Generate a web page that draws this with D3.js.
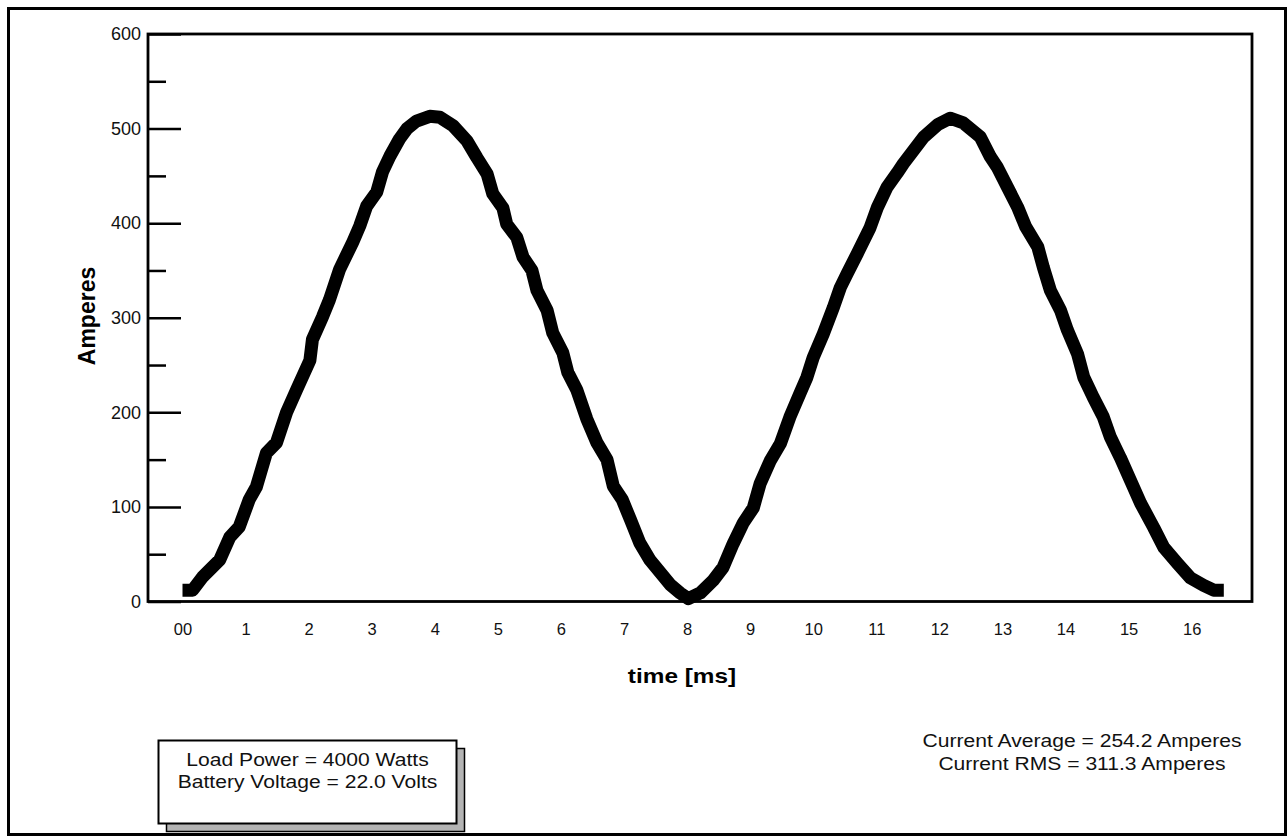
<!DOCTYPE html>
<html>
<head>
<meta charset="utf-8">
<script src="https://cdn.jsdelivr.net/npm/d3@7"></script>
<style>
  body { margin: 0; background: #fff; }
  svg { display: block; font-family: "Liberation Sans", Arial, Helvetica, sans-serif; }
</style>
</head>
<body>
<svg id="chart" width="1288" height="836"></svg>
<script>
// --- data (time in ms, current in A) ---
const timeMs = [
  0, 0.16, 0.32, 0.59, 0.75, 0.9, 1.06, 1.17, 1.33, 1.49, 1.65, 1.81, 2.02, 2.06, 2.22, 2.33,
  2.49, 2.7, 2.81, 2.92, 3.08, 3.17, 3.29, 3.44, 3.56, 3.71, 3.92, 4.08, 4.29, 4.51, 4.67, 4.83,
  4.92, 5.08, 5.14, 5.3, 5.4, 5.54, 5.62, 5.78, 5.87, 6.03, 6.11, 6.25, 6.41, 6.57, 6.73, 6.83,
  6.97, 7.1, 7.25, 7.41, 7.57, 7.73, 7.89, 8.02, 8.21, 8.41, 8.57, 8.73, 8.89, 9.05, 9.16, 9.32,
  9.48, 9.63, 9.79, 9.9, 10.0, 10.16, 10.32, 10.43, 10.54, 10.7, 10.9, 11.02, 11.17, 11.33, 11.43,
  11.59, 11.75, 11.97, 12.17, 12.38, 12.65, 12.81, 12.92, 13.08, 13.24, 13.37, 13.56, 13.65, 13.76,
  13.92, 14.03, 14.19, 14.29, 14.44, 14.6, 14.71, 14.87, 15.03, 15.19, 15.4, 15.56, 15.78, 15.98,
  16.19, 16.35, 16.51
];
const amps = [
  12, 12, 26, 44, 68, 79, 108, 121, 157, 168, 200, 224, 255, 277, 301, 319,
  351, 380, 397, 418, 433, 454, 471, 489, 500, 508, 513, 512, 503, 487, 469, 452,
  431, 416, 399, 385, 364, 350, 329, 308, 284, 263, 242, 224, 193, 168, 150, 122,
  108, 87, 62, 44, 31, 18, 9, 3, 9, 22, 36, 61, 83, 99, 125, 149,
  167, 195, 220, 237, 258, 283, 311, 332, 347, 368, 395, 417, 438, 453, 463,
  477, 491, 504, 511, 506, 491, 470, 459, 438, 417, 396, 375, 353, 329,
  308, 287, 262, 237, 216, 195, 174, 152, 128, 104, 78, 57, 40, 25,
  17, 12, 12
];

const xTickValues = [0, 1, 2, 3, 4, 5, 6, 7, 8, 9, 10, 11, 12, 13, 14, 15, 16];
const xTickLabels = ['00', '1', '2', '3', '4', '5', '6', '7', '8', '9', '10', '11', '12', '13', '14', '15', '16'];
const yMajorTicks = [0, 100, 200, 300, 400, 500, 600];
const yMinorTicks = [50, 150, 250, 350, 450, 550];

const leftNotes = ['Load Power = 4000 Watts', 'Battery Voltage = 22.0 Volts'];
const rightNotes = ['Current Average = 254.2 Amperes', 'Current RMS = 311.3 Amperes'];

const svg = d3.select('#chart');
const plot = { left: 148, right: 1252, top: 34, bottom: 601.5 };

const x = d3.scaleLinear().domain([-0.547, 16.957]).range([plot.left, plot.right]);
const y = d3.scaleLinear().domain([0, 600]).range([plot.bottom, plot.top]);

// outer frame
svg.append('rect')
  .attr('x', 8.5).attr('y', 8.5).attr('width', 1277).attr('height', 826)
  .attr('fill', 'none').attr('stroke', '#000').attr('stroke-width', 3);

// y axis: big ticks every 100, small ones between, both pointing into the plot
const yAxis = svg.append('g')
  .attr('transform', `translate(${plot.left},0)`)
  .call(d3.axisLeft(y).tickValues(yMajorTicks).tickSize(-33).tickPadding(7).tickFormat(d3.format('d')));
svg.append('g')
  .attr('transform', `translate(${plot.left},0)`)
  .call(d3.axisLeft(y).tickValues(yMinorTicks).tickSize(-18).tickFormat(''))
  .call(g => g.select('.domain').remove());
svg.selectAll('.tick line').attr('stroke', '#000').attr('stroke-width', 2.5);
yAxis.select('.domain').remove();
yAxis.selectAll('text').attr('font-size', 18).attr('fill', '#111').attr('font-family', null);

// x axis: labels only
const xAxis = svg.append('g')
  .attr('transform', `translate(0,${plot.bottom})`)
  .call(d3.axisBottom(x).tickValues(xTickValues).tickSize(0).tickPadding(22)
    .tickFormat((d, i) => xTickLabels[i]));
xAxis.select('.domain').remove();
xAxis.selectAll('text').attr('font-size', 16.5).attr('fill', '#111').attr('font-family', null);

// plot frame
svg.append('rect')
  .attr('x', plot.left).attr('y', plot.top)
  .attr('width', plot.right - plot.left).attr('height', plot.bottom - plot.top)
  .attr('fill', 'none').attr('stroke', '#000').attr('stroke-width', 2.8);

// the current waveform
const line = d3.line().x(i => x(timeMs[i])).y(i => y(amps[i]));
svg.append('path')
  .datum(d3.range(timeMs.length))
  .attr('d', line)
  .attr('fill', 'none')
  .attr('stroke', '#000')
  .attr('stroke-width', 13)
  .attr('stroke-linejoin', 'round')
  .attr('stroke-linecap', 'butt');

// axis titles
svg.append('text')
  .attr('transform', 'translate(682,683) scale(1.16,1)')
  .attr('text-anchor', 'middle')
  .attr('font-size', 21).attr('font-weight', 'bold')
  .text('time [ms]');
svg.append('text')
  .attr('transform', 'translate(95,316) rotate(-90)')
  .attr('text-anchor', 'middle')
  .attr('font-size', 23).attr('font-weight', 'bold')
  .text('Amperes');

// boxed note with drop shadow
svg.append('rect')
  .attr('x', 166.5).attr('y', 748.5).attr('width', 298).attr('height', 83)
  .attr('fill', '#b4b4b4').attr('stroke', '#000').attr('stroke-width', 1.5);
svg.append('rect')
  .attr('x', 158.5).attr('y', 740.5).attr('width', 298).attr('height', 83)
  .attr('fill', '#fff').attr('stroke', '#000').attr('stroke-width', 2);
leftNotes.forEach((t, i) => {
  svg.append('text')
    .attr('transform', `translate(307.5,${766 + i * 21.5}) scale(1.14,1)`)
    .attr('text-anchor', 'middle')
    .attr('font-size', 18.5).attr('fill', '#111')
    .text(t);
});

rightNotes.forEach((t, i) => {
  svg.append('text')
    .attr('transform', `translate(1082,${747 + i * 23}) scale(1.14,1)`)
    .attr('text-anchor', 'middle')
    .attr('font-size', 18.5).attr('fill', '#111')
    .text(t);
});
</script>
</body>
</html>
